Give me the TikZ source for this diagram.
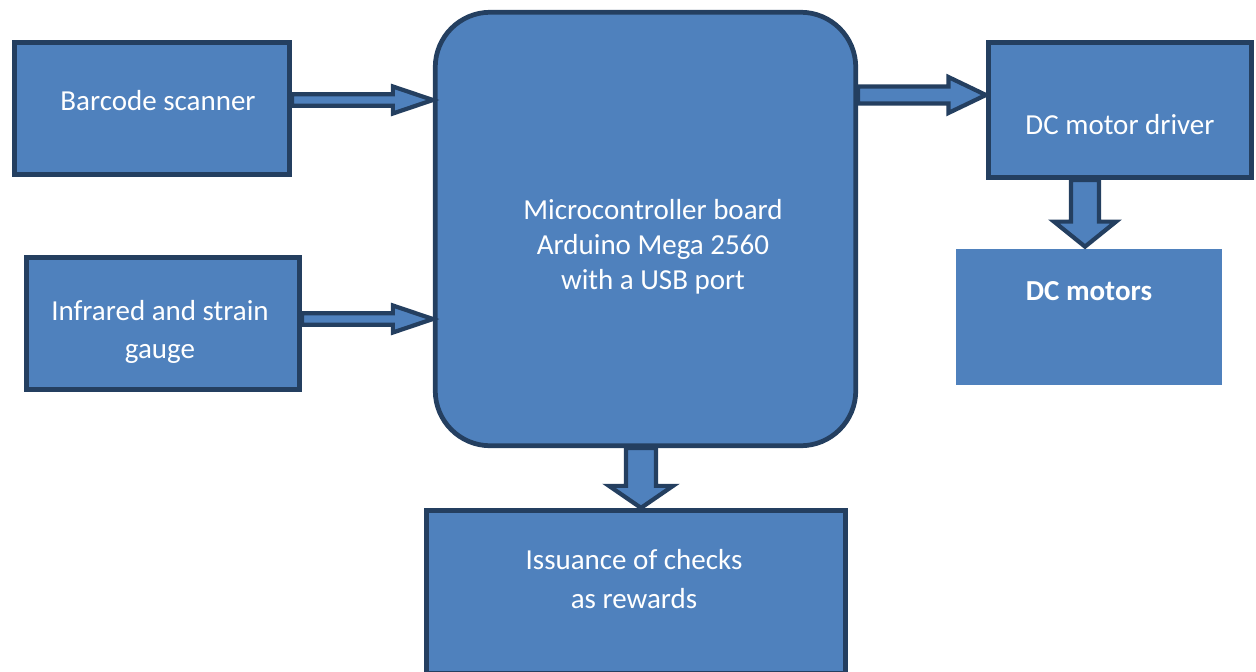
\documentclass[tikz,border=0pt]{standalone}
\usepackage{fontspec}
\setmainfont{Carlito}
\usetikzlibrary{positioning, calc}
\definecolor{boxblue}{HTML}{4F81BD}
\definecolor{boxedge}{HTML}{243F60}

% block arrow: shaft half width, head half width, head length, from, to
\newcommand{\blockarrow}[5]{%
  \coordinate (ba-s) at (#4);
  \coordinate (ba-t) at (#5);
  \coordinate (ba-b) at ($(ba-t)!#3!(ba-s)$);
  \draw[barrow] ($(ba-s)!#1!90:(ba-t)$) -- ($(ba-b)!#1!-90:(ba-s)$)
    -- ($(ba-b)!#2!-90:(ba-s)$) -- (ba-t) -- ($(ba-b)!#2!90:(ba-s)$)
    -- ($(ba-b)!#1!90:(ba-s)$) -- ($(ba-s)!#1!-90:(ba-t)$) -- cycle;
}

\begin{document}
\begin{tikzpicture}[
    unit/.style={draw=boxedge, fill=boxblue, line width=2.7pt, inner sep=0pt},
    lbl/.style={text=white, font=\fontsize{16.5}{22}\selectfont, align=center},
    barrow/.style={draw=boxedge, fill=boxblue, line width=2.4pt, line join=miter},
]
\useasboundingbox (0,0) rectangle (25.12,-13.42);

% Inputs
\node[unit, minimum width=5.51cm, minimum height=2.65cm,
      label={[lbl, xshift=0.12cm, yshift=0.15cm]center:Barcode scanner}] (barcode) at (3.04,-2.17) {};
\node[unit, minimum width=5.47cm, minimum height=2.65cm,
      label={[lbl, xshift=-0.06cm, yshift=-0.17cm]center:Infrared and strain\\gauge}] (infrared) at (3.26,-6.47) {};

% Controller
\node[unit, rounded corners=1.1cm, minimum width=8.41cm, minimum height=8.67cm,
      label={[lbl, font=\fontsize{16.5}{20}\selectfont, xshift=0.15cm, yshift=-0.36cm]center:Microcontroller board\\Arduino Mega 2560\\with a USB port}] (micro) at (12.91,-4.58) {};

% Outputs
\node[unit, minimum width=5.27cm, minimum height=2.71cm,
      label={[lbl, yshift=-0.3cm]center:DC motor driver}] (driver) at (22.4,-2.2) {};
\node[unit, draw=none, minimum width=5.32cm, minimum height=2.72cm,
      label={[lbl, yshift=0.52cm]center:\textbf{DC motors}}] (motors) at (21.78,-6.34) {};
\node[unit, minimum width=8.39cm, minimum height=3.27cm,
      label={[lbl, xshift=-0.04cm, yshift=0.26cm]center:Issuance of checks\\as rewards}] (issuance) at (12.72,-11.84) {};

% Connections
\blockarrow{0.115cm}{0.27cm}{0.8cm}{$(barcode.east)+(0,0.17)$}{micro.west |- ba-s}
\blockarrow{0.115cm}{0.27cm}{0.8cm}{$(infrared.east)+(0,0.09)$}{micro.west |- ba-s}
\blockarrow{0.17cm}{0.36cm}{0.75cm}{$(micro.east)+(0,2.68)$}{driver.west |- ba-s}
\blockarrow{0.28cm}{0.62cm}{0.5cm}{$(driver.south)+(-0.7,0)$}{motors.north -| ba-s}
\blockarrow{0.3cm}{0.64cm}{0.44cm}{$(micro.south)+(-0.09,0)$}{issuance.north -| ba-s}

\end{tikzpicture}
\end{document}
